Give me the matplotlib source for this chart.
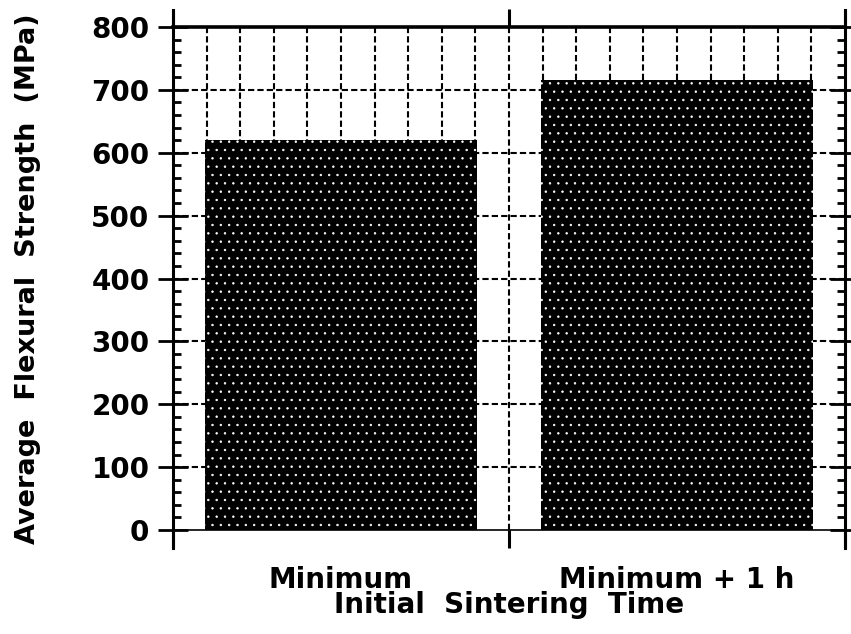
import numpy as np
import matplotlib
matplotlib.use("Agg")
import matplotlib.pyplot as plt
from matplotlib.ticker import MultipleLocator, FixedLocator

# Data
categories = ["Minimum", "Minimum + 1 h"]
strength = [620, 715]          # MPa
positions = [0.5, 1.5]
y_ticks = [0, 100, 200, 300, 400, 500, 600, 700, 800]

plt.rcParams["font.family"] = ["DejaVu Sans"]
plt.rcParams["font.weight"] = "bold"
plt.rcParams["axes.labelweight"] = "bold"
plt.rcParams["hatch.linewidth"] = 0.5

fig = plt.figure(figsize=(8.51, 6.34), dpi=100)
ax = fig.add_axes([173 / 851, 1 - 530 / 634, 672 / 851, 503 / 634])

# Dashed grid behind the bars
for gx in np.arange(0.1, 2.0, 0.1):
    ax.axvline(gx, color="black", lw=1.5, ls=(0, (3, 1.5)), zorder=0)
for gy in y_ticks[1:-1]:
    ax.axhline(gy, color="black", lw=1.5, ls=(0, (3, 1.5)), zorder=0)

# Stippled black bars
bars = ax.bar(positions, strength, width=0.81, color="black",
              edgecolor="white", linewidth=0, hatch="..", zorder=2)

ax.set_xlim(0, 2)
ax.set_ylim(0, 800)

# Spines
for side in ["left", "right"]:
    ax.spines[side].set_linewidth(2.2)
    ax.spines[side].set_bounds(-28, 827)
ax.spines["top"].set_linewidth(2.6)
ax.spines["bottom"].set_linewidth(1.2)

# Y axis ticks on both sides
ax.yaxis.set_major_locator(FixedLocator(y_ticks))
ax.yaxis.set_minor_locator(MultipleLocator(20))
ax.tick_params(axis="y", which="major", direction="inout", length=22, width=2,
               left=True, right=True, labelsize=20, pad=6)
ax.tick_params(axis="y", which="minor", direction="in", length=6, width=2,
               left=True, right=True)

# X axis: group boundary ticks, labels at bar centres
ax.xaxis.set_major_locator(FixedLocator([0, 1, 2]))
ax.xaxis.set_minor_locator(FixedLocator(positions))
ax.set_xticklabels([], minor=False)
ax.set_xticklabels(categories, minor=True, fontsize=20)
ax.tick_params(axis="x", which="major", direction="out", length=13, width=2.2,
               top=True, bottom=True)
ax.tick_params(axis="x", which="minor", length=0, pad=26)

ax.set_ylabel("Average  Flexural  Strength  (MPa)", fontsize=19.5,
              fontweight="bold", labelpad=36)
ax.set_xlabel("Initial  Sintering  Time", fontsize=20, fontweight="bold",
              labelpad=-2)

fig.savefig("out.png", dpi=100)
